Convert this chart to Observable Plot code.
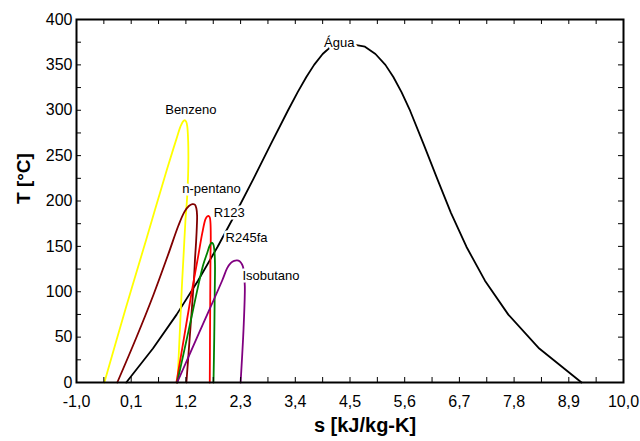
<!DOCTYPE html>
<html><head><meta charset="utf-8">
<script src="https://cdn.jsdelivr.net/npm/d3@7"></script>
<script src="https://cdn.jsdelivr.net/npm/@observablehq/plot@0.6"></script>
<style>
body{margin:0;background:#fff;}
#chart{width:640px;height:441px;}
</style>
</head><body><div id="chart"></div>
<script>
// Tick labels
const xTickValues = [-1.0, 0.1, 1.2, 2.3, 3.4, 4.5, 5.6, 6.7, 7.8, 8.9, 10.0];
const yTickValues = [0, 50, 100, 150, 200, 250, 300, 350, 400];

// Água (water) saturation dome
const aguaS = [0.000, 0.537, 1.013, 1.443, 1.838, 2.206, 2.558, 2.900, 3.247, 3.448, 3.622, 3.778, 3.950, 4.111, 4.407,
               4.801, 5.012, 5.212, 5.372, 5.536, 5.711, 5.986, 6.255, 6.530, 6.841, 7.214, 7.684, 8.306, 9.156];
const aguaT = [0.01, 37.4, 74.8, 112.2, 149.6, 187, 224.4, 261.8, 299.2, 320, 336.6, 350, 362, 370, 373.95,
               370, 362, 350, 336.6, 320, 299.2, 261.8, 224.4, 187, 149.6, 112.2, 74.8, 37.4, 0.01];

// Benzeno
const benzenoS = [-0.44, -0.02, 0.40, 0.62, 0.82, 0.95, 1.03, 1.09, 1.14, 1.175, 1.205, 1.228, 1.246, 1.25, 1.245, 1.226, 1.19, 1.158, 1.125, 1.10, 1.06, 1.03];
const benzenoT = [0, 80, 157, 198, 235, 258, 272, 282, 287.5, 289, 287.5, 282, 265, 248, 230, 205, 178, 145, 112, 83, 35, 0];

// n-pentano
const pentanoS = [-0.18, 0.20, 0.55, 0.85, 1.05, 1.17, 1.26, 1.33, 1.38, 1.41, 1.425, 1.42, 1.405, 1.385, 1.36, 1.31, 1.26, 1.21];
const pentanoT = [0, 49, 97, 142, 173, 188, 194.5, 196.5, 196, 192, 184, 172, 155, 138, 112, 74, 37, 0];

// R123
const r123S = [1.01, 1.17, 1.33, 1.45, 1.527, 1.594, 1.63, 1.655, 1.68, 1.694, 1.70, 1.694, 1.687, 1.68];
const r123T = [0, 52, 104, 140, 164, 180, 183, 183.7, 182, 176, 160, 138, 70, 0];

// R245fa
const r245S = [1.025, 1.25, 1.47, 1.55, 1.63, 1.68, 1.72, 1.75, 1.772, 1.785, 1.78, 1.77, 1.755];
const r245T = [0, 56, 112, 130, 143, 151, 154, 152.5, 146, 130, 100, 50, 0];

// Isobutano
const isobutanoS = [1.025, 1.48, 1.93, 2.03, 2.10, 2.17, 2.23, 2.28, 2.33, 2.355, 2.37, 2.385, 2.36, 2.30];
const isobutanoT = [0, 56.5, 112.4, 126, 131.5, 134, 134.5, 133.5, 130, 126, 117, 106, 60, 0];

// Curve labels
const labelNames = ["Benzeno", "n-pentano", "R123", "R245fa", "Isobutano", "Água"];
const labelS = [1.30, 1.715, 2.07, 2.42, 2.91, 4.285];
const labelT = [300, 213.4, 187, 159.4, 117, 374];

const fluids = [
  {name: "Água", color: "#000000", s: aguaS, T: aguaT, curve: "linear"},
  {name: "Benzeno", color: "#ffff00", s: benzenoS, T: benzenoT, curve: "catmull-rom"},
  {name: "n-pentano", color: "#800000", s: pentanoS, T: pentanoT, curve: "catmull-rom"},
  {name: "R123", color: "#ff0000", s: r123S, T: r123T, curve: "catmull-rom"},
  {name: "R245fa", color: "#008000", s: r245S, T: r245T, curve: "catmull-rom"},
  {name: "Isobutano", color: "#800080", s: isobutanoS, T: isobutanoT, curve: "catmull-rom"}
];

const rows = fluids.flatMap(f => f.s.map((s, i) => ({fluid: f.name, s, T: f.T[i]})));
const labels = labelNames.map((n, i) => ({name: n, s: labelS[i], T: labelT[i]}));

// minor ticks halfway between majors
const xAllTicks = xTickValues.flatMap((v, i) => i < xTickValues.length - 1 ? [v, (v + xTickValues[i + 1]) / 2] : [v]);
const yAllTicks = yTickValues.flatMap((v, i) => i < yTickValues.length - 1 ? [v, (v + yTickValues[i + 1]) / 2] : [v]);

const W = 640, H = 441, mL = 76, mR = 17, mT = 19, mB = 59;
const plotW = W - mL - mR, plotH = H - mT - mB;
const tk = 5;
const fmt = d => d.toFixed(1).replace(".", ",");

const chart = Plot.plot({
  width: W, height: H,
  marginLeft: mL, marginRight: mR, marginTop: mT, marginBottom: mB,
  style: {fontFamily: "'Liberation Sans', Arial, sans-serif", background: "#fff", color: "#000"},
  x: {domain: [-1, 10]},
  y: {domain: [0, 400]},
  marks: [
    ...fluids.map(f => Plot.line(rows.filter(r => r.fluid === f.name), {
      x: "s", y: "T", stroke: f.color, strokeWidth: 1.8, curve: f.curve
    })),
    Plot.text(labels, {x: "s", y: "T", text: "name", fontSize: 13, fill: "#000", stroke: "#fff", strokeWidth: 5}),
    Plot.frame({stroke: "#000", strokeWidth: 2}),
    Plot.tickX(xAllTicks, {x: d => d, insetTop: plotH - tk, stroke: "#000", strokeWidth: 1}),
    Plot.tickX(xAllTicks, {x: d => d, insetBottom: plotH - tk, stroke: "#000", strokeWidth: 1}),
    Plot.tickY(yAllTicks, {y: d => d, insetRight: plotW - tk, stroke: "#000", strokeWidth: 1}),
    Plot.tickY(yAllTicks, {y: d => d, insetLeft: plotW - tk, stroke: "#000", strokeWidth: 1}),
    Plot.axisX(xTickValues, {tickSize: 0, tickPadding: 13, tickFormat: fmt, fontSize: 16, label: null}),
    Plot.axisY(yTickValues, {tickSize: 0, tickPadding: 4, tickFormat: d => String(d), fontSize: 16, label: null}),
    Plot.text(["s [kJ/kg-K]"], {text: d => d, frameAnchor: "bottom", dx: 15, dy: 49, fontSize: 20, fontWeight: "bold", fill: "#000"}),
    Plot.text(["T [°C]"], {text: d => d, frameAnchor: "left", dx: -53, dy: 3, rotate: -90, fontSize: 19, fontWeight: "bold", fill: "#000"})
  ]
});
document.getElementById("chart").appendChild(chart);
</script>
</body></html>
